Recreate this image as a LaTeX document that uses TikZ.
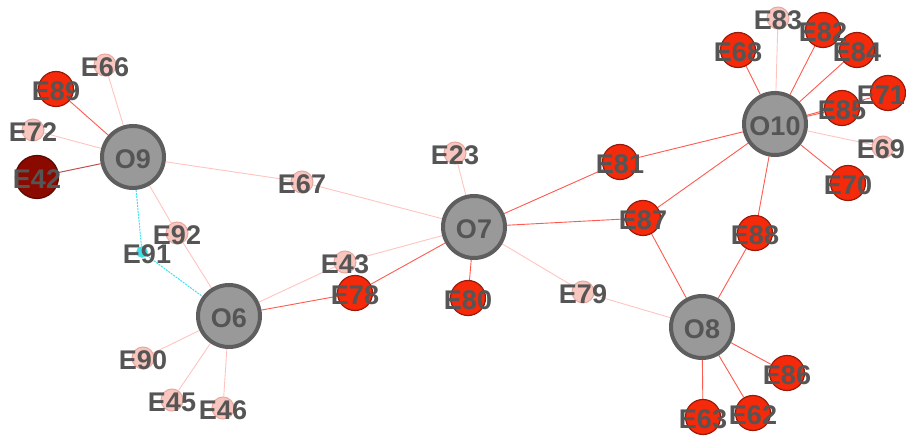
\documentclass[tikz,border=0pt]{standalone}
\usepackage{fontspec}
\setmainfont{Liberation Sans}
\pgfdeclarelayer{background}
\pgfsetlayers{background,main}
\definecolor{ofill}{HTML}{999999}
\definecolor{oborder}{HTML}{5E5E5E}
\definecolor{rfill}{HTML}{F52A0A}
\definecolor{rborder}{HTML}{9A1A0A}
\definecolor{pfill}{HTML}{F8C6BE}
\definecolor{pborder}{HTML}{E8A8A0}
\definecolor{dfill}{HTML}{8A0A00}
\definecolor{dborder}{HTML}{5A0800}
\definecolor{cfill}{HTML}{40E0E8}
\definecolor{txt}{HTML}{555555}
\definecolor{redge}{HTML}{FF5A50}
\definecolor{pedge}{HTML}{FFC4C0}
\definecolor{dedge}{HTML}{C05050}
\definecolor{cedge}{HTML}{40E0F0}
\tikzset{
  onode/.style={circle, fill=ofill, draw=oborder, line width=4pt, minimum size=62pt, inner sep=0pt},
  rnode/.style={circle, fill=rfill, draw=rborder, line width=1.2pt, minimum size=35pt, inner sep=0pt},
  pnode/.style={circle, fill=pfill, draw=pborder, line width=1pt, minimum size=22pt, inner sep=0pt},
  dnode/.style={circle, fill=dfill, draw=dborder, line width=1.2pt, minimum size=43pt, inner sep=0pt},
  cnode/.style={circle, fill=cfill, draw=cfill, line width=0.5pt, minimum size=11pt, inner sep=0pt},
  lbl/.style={text=txt, font=\bfseries\fontsize{27}{27}\selectfont, inner sep=0pt, yshift=-2pt},
  redline/.style={draw=redge, line width=0.9pt},
  pinkline/.style={draw=pedge, line width=0.9pt},
  darkline/.style={draw=dedge, line width=1pt},
  cyanline/.style={draw=cedge, line width=1pt, dashed, dash pattern=on 2pt off 1pt},
}
\begin{document}
\begin{tikzpicture}[x=1pt,y=-1pt]
\useasboundingbox (0,0) rectangle (906,441);
% O nodes
\node[onode] (O9) at (133,157) {};
\node[onode] (O6) at (229,316) {};
\node[onode] (O7) at (474,227) {};
\node[onode] (O10) at (775,124) {};
\node[onode] (O8) at (702,327) {};
% E nodes
\node[rnode] (E89) at (56,89) {};
\node[pnode] (E66) at (105,65) {};
\node[pnode] (E72) at (33,130) {};
\node[dnode] (E42) at (37,177) {};
\node[pnode] (E92) at (177,233) {};
\node[cnode] (E91) at (142,252) {};
\node[pnode] (E43) at (345,262) {};
\node[rnode] (E78) at (355,293) {};
\node[pnode] (E90) at (143,358) {};
\node[pnode] (E45) at (172,400) {};
\node[pnode] (E46) at (223,408) {};
\node[pnode] (E23) at (455,153) {};
\node[pnode] (E67) at (302,182) {};
\node[rnode] (E80) at (468,298) {};
\node[rnode] (E81) at (620,162) {};
\node[rnode] (E87) at (643,218) {};
\node[rnode] (E88) at (755,233) {};
\node[pnode] (E79) at (583,292) {};
\node[pnode] (E83) at (778,18) {};
\node[rnode] (E68) at (738,50) {};
\node[rnode] (E82) at (823,30) {};
\node[rnode] (E84) at (857,50) {};
\node[rnode] (E71) at (888,93) {};
\node[rnode] (E85) at (842,108) {};
\node[pnode] (E69) at (883,147) {};
\node[rnode] (E70) at (848,183) {};
\node[rnode] (E86) at (787,373) {};
\node[rnode] (E62) at (753,413) {};
\node[rnode] (E63) at (703,417) {};
% edges
\begin{pgfonlayer}{background}
\draw[pinkline] (O9) -- (E66);
\draw[pinkline] (O9) -- (E72);
\draw[pinkline] (O9) -- (E67);
\draw[pinkline] (E67) -- (O7);
\draw[pinkline] (O9) -- (E92);
\draw[pinkline] (E92) -- (O6);
\draw[pinkline] (O6) -- (E43);
\draw[pinkline] (E43) -- (O7);
\draw[pinkline] (O6) -- (E90);
\draw[pinkline] (O6) -- (E45);
\draw[pinkline] (O6) -- (E46);
\draw[pinkline] (O7) -- (E23);
\draw[pinkline] (O7) -- (E79);
\draw[pinkline] (E79) -- (O8);
\draw[pinkline] (O10) -- (E83);
\draw[pinkline] (O10) -- (E69);
\draw[cyanline] (O9) -- (E91);
\draw[cyanline] (E91) -- (O6);
\draw[darkline] (O9) -- (E42);
\draw[redline] (O9) -- (E89);
\draw[redline] (O6) -- (E78);
\draw[redline] (E78) -- (O7);
\draw[redline] (O7) -- (E80);
\draw[redline] (O7) -- (E81);
\draw[redline] (E81) -- (O10);
\draw[redline] (O7) -- (E87);
\draw[redline] (E87) -- (O10);
\draw[redline] (E87) -- (O8);
\draw[redline] (O10) -- (E88);
\draw[redline] (E88) -- (O8);
\draw[redline] (O10) -- (E68);
\draw[redline] (O10) -- (E82);
\draw[redline] (O10) -- (E84);
\draw[redline] (O10) -- (E85);
\draw[redline] (O10) -- (E71);
\draw[redline] (O10) -- (E70);
\draw[redline] (O8) -- (E86);
\draw[redline] (O8) -- (E62);
\draw[redline] (O8) -- (E63);
\end{pgfonlayer}
% labels
\foreach \n in {O9,O6,O7,O10,O8,E89,E66,E72,E42,E92,E43,E78,E90,E45,E46,E23,E67,E80,E81,E87,E88,E79,E83,E68,E82,E84,E85,E70,E86,E62,E63}
  \node[lbl] (L\n) at (\n.center) {\n};
\node[lbl] (LE91) at ([xshift=5pt]E91.center) {E91};
\node[lbl, anchor=east, xshift=0pt] (LE71) at ([xshift=17pt]E71.center) {E71};
\node[lbl, anchor=east] (LE69) at ([xshift=22pt]E69.center) {E69};
\end{tikzpicture}
\end{document}
